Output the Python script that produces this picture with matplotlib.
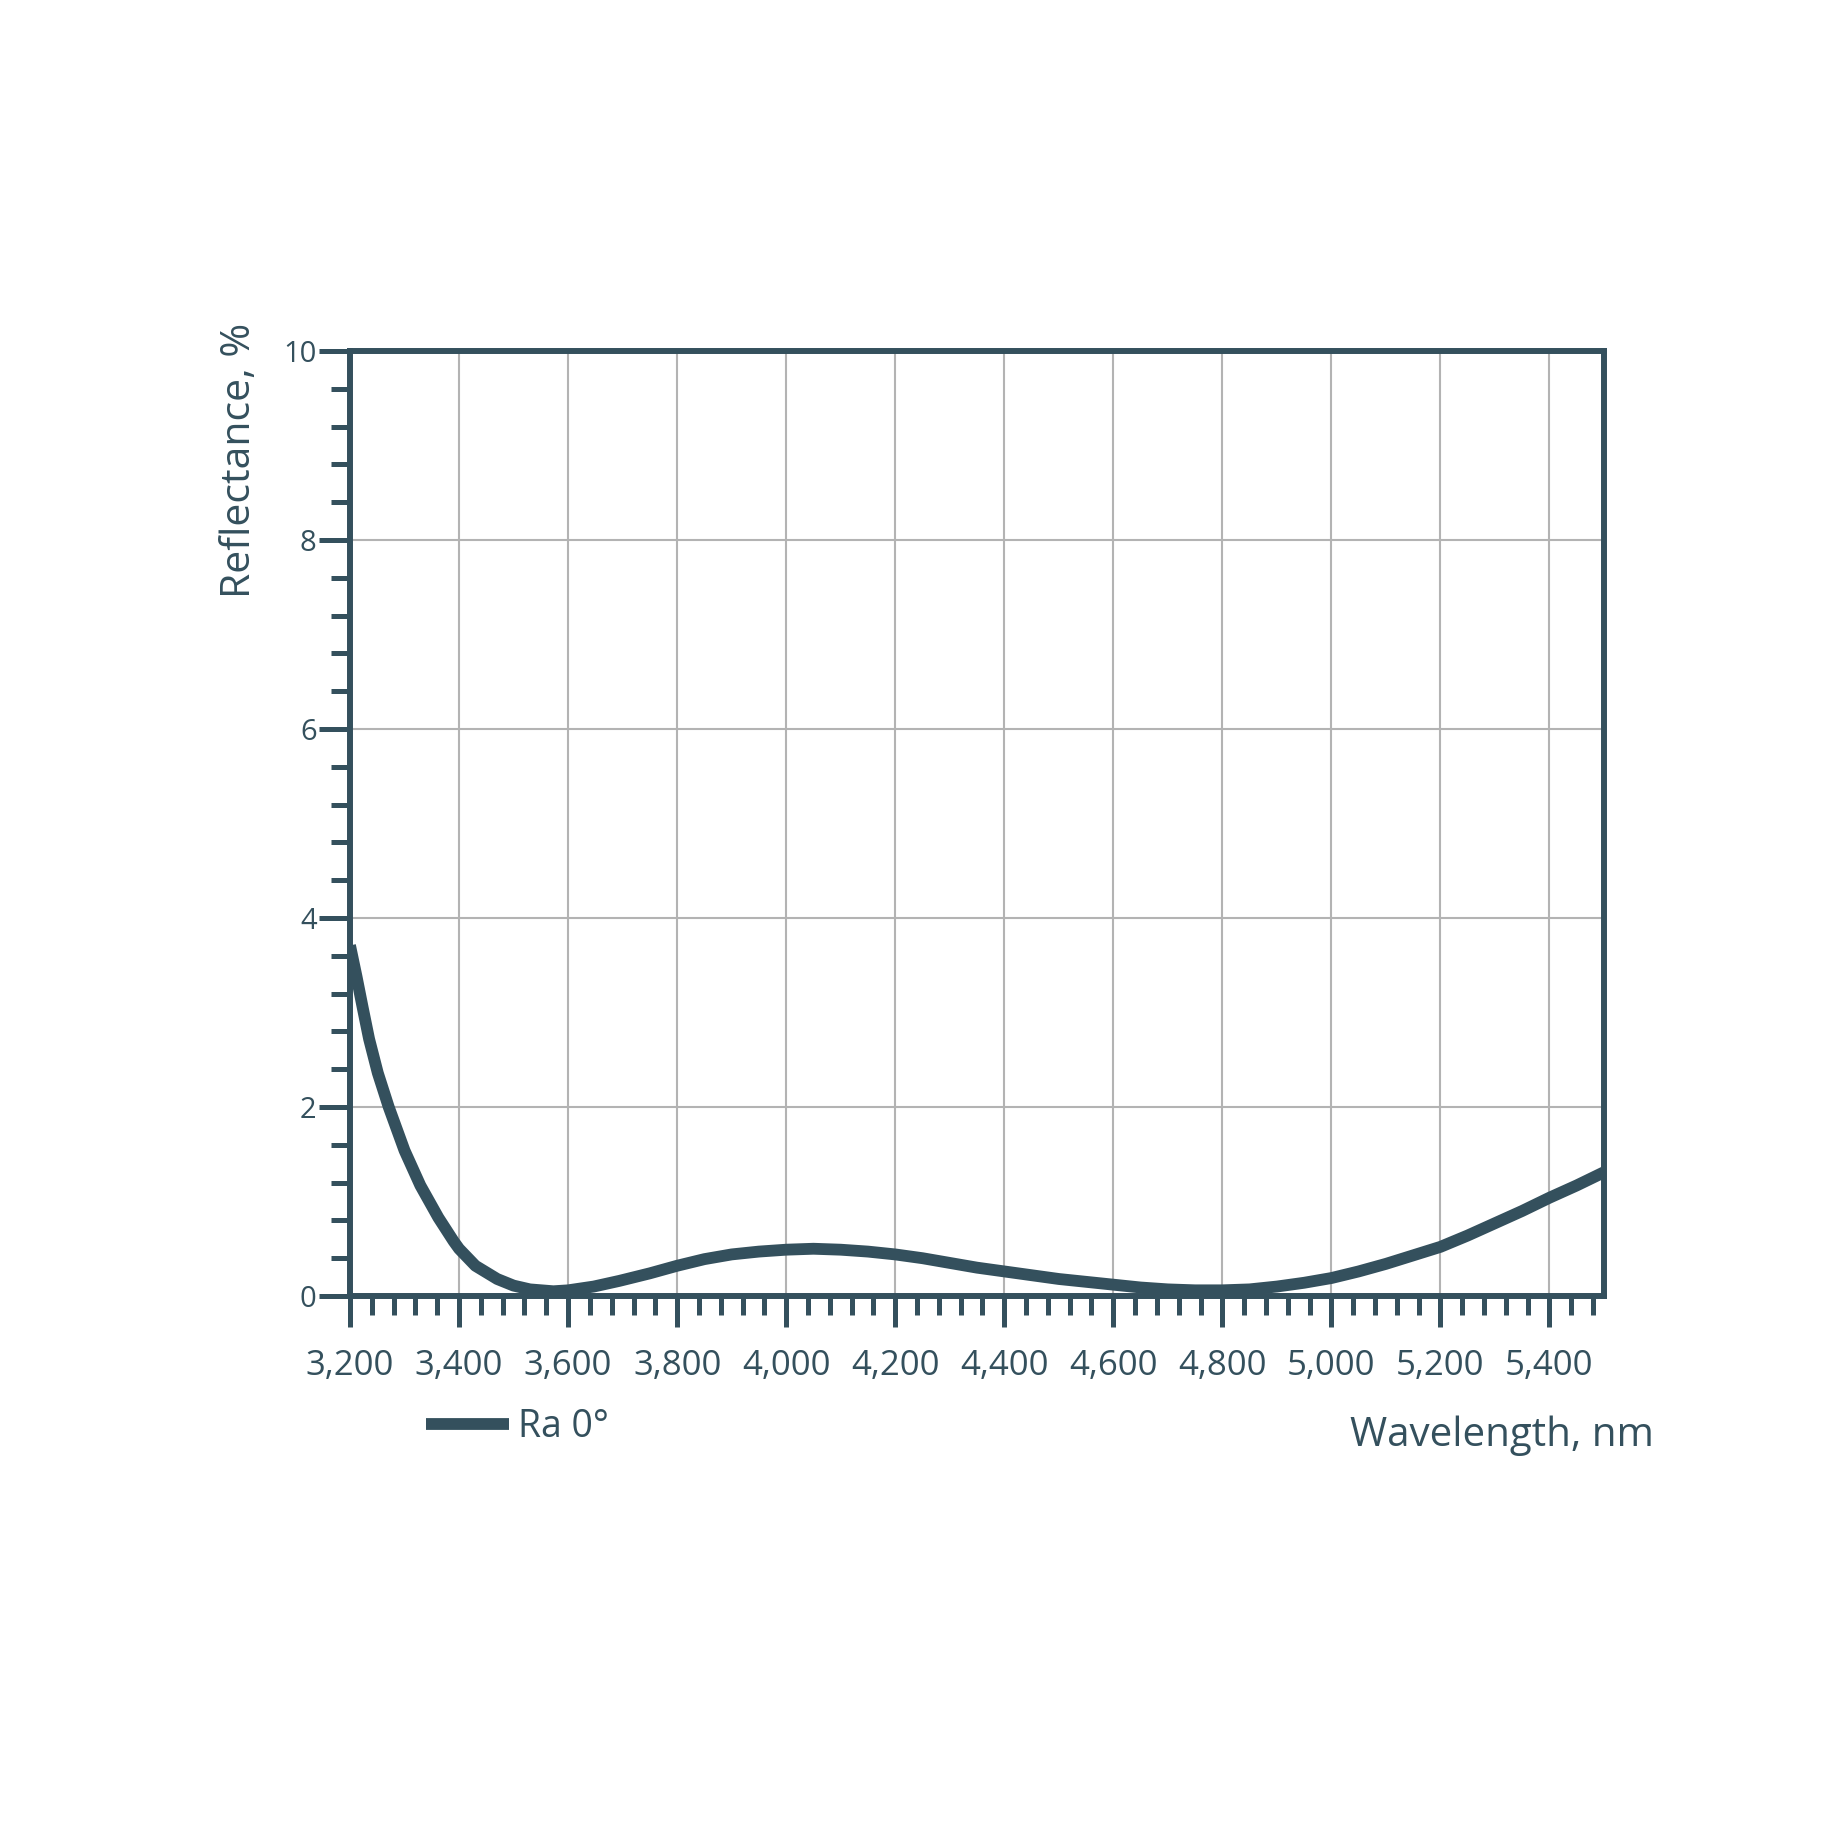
import numpy as np
import matplotlib.pyplot as plt
from matplotlib.ticker import MultipleLocator, FuncFormatter

# Reflectance curve (wavelength in nm, reflectance in %)
wavelength = [3200, 3212, 3223, 3235, 3251, 3271, 3300, 3329, 3362, 3390,
              3400, 3430, 3470, 3500, 3530, 3573, 3600, 3647, 3694, 3750,
              3800, 3850, 3900, 3950, 4000, 4050, 4100, 4150, 4200, 4250,
              4300, 4350, 4400, 4450, 4500, 4550, 4600, 4650, 4700, 4750,
              4800, 4850, 4900, 4950, 5000, 5050, 5100, 5150, 5200, 5250,
              5300, 5350, 5400, 5450, 5500]
reflectance = [3.71, 3.38, 3.06, 2.72, 2.36, 2.00, 1.54, 1.17, 0.83, 0.58,
               0.50, 0.32, 0.18, 0.11, 0.07, 0.05, 0.06, 0.10, 0.16, 0.24,
               0.32, 0.39, 0.44, 0.47, 0.49, 0.50, 0.49, 0.47, 0.44, 0.40,
               0.35, 0.30, 0.26, 0.22, 0.18, 0.15, 0.12, 0.09, 0.07, 0.06,
               0.06, 0.07, 0.10, 0.14, 0.19, 0.26, 0.34, 0.43, 0.52, 0.64,
               0.77, 0.90, 1.04, 1.17, 1.31]
series_label = "Ra 0°"

dark = "#34505d"
plt.rcParams['font.family'] = ['Open Sans', 'DejaVu Sans']

fig = plt.figure(figsize=(18.48, 18.48), dpi=100)
ax = fig.add_axes([350 / 1848, 552 / 1848, 1254 / 1848, 945 / 1848])

ax.plot(wavelength, reflectance, color=dark, lw=8.5, solid_joinstyle='round',
        solid_capstyle='butt', label=series_label, zorder=3)

ax.set_xlim(3200, 5500)
ax.set_ylim(0, 10)
ax.xaxis.set_major_locator(MultipleLocator(200))
ax.xaxis.set_minor_locator(MultipleLocator(40))
ax.yaxis.set_major_locator(MultipleLocator(2))
ax.yaxis.set_minor_locator(MultipleLocator(0.4))
ax.xaxis.set_major_formatter(FuncFormatter(lambda v, p: f"{int(v):,}"))
ax.yaxis.set_major_formatter(FuncFormatter(lambda v, p: f"{int(v)}"))

ax.grid(True, which='major', color='#b3b3b3', lw=1.5, zorder=0)
ax.set_axisbelow(True)

for s in ax.spines.values():
    s.set_color(dark)
    s.set_linewidth(4.3)

ax.tick_params(axis='both', which='major', color=dark, width=3.6, length=22,
               labelcolor=dark)
ax.tick_params(axis='both', which='minor', color=dark, width=3.6, length=14)
ax.tick_params(axis='x', which='major', labelsize=25, pad=16)
ax.tick_params(axis='y', which='major', labelsize=21, pad=2)

ax.text(-0.088, 1.03, "Reflectance, %", transform=ax.transAxes, rotation=90,
        ha='center', va='top', fontsize=29.5, color=dark)
ax.text(1.04, -0.148, "Wavelength, nm", transform=ax.transAxes,
        ha='right', va='center', fontsize=29, color=dark)

leg = fig.legend(loc='center left', bbox_to_anchor=(426 / 1848, 1 - 1427 / 1848),
                 frameon=False, fontsize=27, handlelength=2.2, handletextpad=0.25,
                 borderpad=0, borderaxespad=0, labelcolor=dark)

fig.savefig("out.png", dpi=100, facecolor='white')
